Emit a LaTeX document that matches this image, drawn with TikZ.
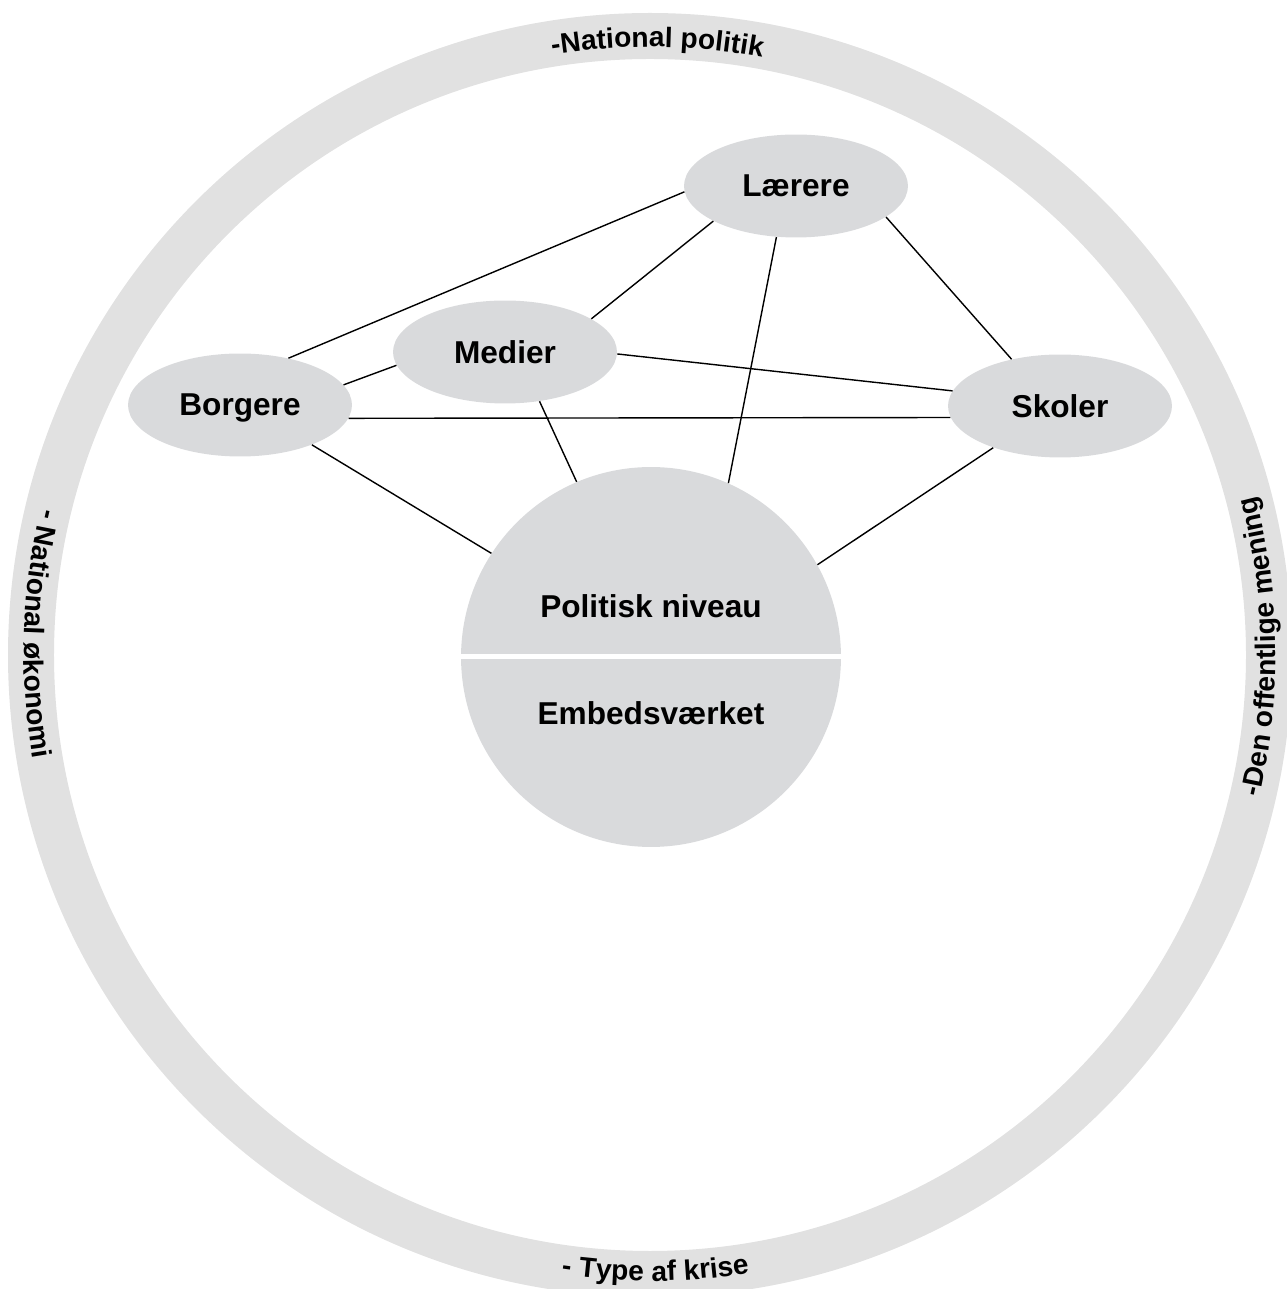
\documentclass[tikz,border=0pt]{standalone}
\usepackage{fontspec}
\setmainfont{Liberation Sans}
\usetikzlibrary{shapes.geometric,decorations.text}
\definecolor{ringgray}{RGB}{225,225,225}
\definecolor{nodegray}{RGB}{217,218,220}
\newcommand{\ringfont}{\fontsize{16}{19}\selectfont\bfseries}
\newcommand{\actorfont}{\fontsize{18}{22}\selectfont\bfseries}

\begin{document}
\begin{tikzpicture}[x=0.02cm,y=0.02cm,
        actor/.style={ellipse,fill=nodegray,minimum width=4.48cm,minimum height=2.06cm,inner sep=0pt,text depth=0pt,font=\actorfont},
        link/.style={line width=0.8pt},
        ringtext/.style={decorate,decoration={text along path,text align=center,text={|\ringfont|#1}}}]
        \useasboundingbox (0,0) rectangle (1287,1289);
        \clip (0,0) rectangle (1287,1289);
        \coordinate (R) at (650,634);
        \draw[ringgray,line width=0.92cm] (R) circle (619);
        \path[ringtext={-National politik}] (R) ++(110:608) arc[start angle=110,end angle=68.6,radius=608];
        \path[ringtext={- Type af krise}] (R) ++(250.5:626) arc[start angle=250.5,end angle=290.5,radius=626];
        \path[ringtext={- National økonomi}] (R) ++(158:626) arc[start angle=158,end angle=198,radius=626];
        \path[ringtext={-Den offentlige mening}] (R) ++(-19.2:626) arc[start angle=-19.2,end angle=20.8,radius=626];
        \node[actor] (laerere) at (796,1103) {Lærere};
        \node[actor] (medier) at (505,937) {Medier};
        \node[actor] (borgere) at (240,884) {Borgere};
        \node[actor] (skoler) at (1060,883) {Skoler};
        \node[circle,fill=nodegray,minimum size=7.6cm,inner sep=0pt] (pol) at (651,632) {};
        \draw[white,line width=0.1cm] (pol.west) -- (pol.east);
        \node[font=\actorfont] (niveau) at (651,683) {Politisk niveau};
        \node[font=\actorfont] (embed) at (651,576) {Embedsværket};
        \draw[link] (laerere.183) -- (borgere.44);
        \draw[link] (laerere.203) -- (medier.21);
        \draw[link] (laerere.249) -- (pol.66);
        \draw[link] (laerere.341) -- (skoler.136);
        \draw[link] (medier.359) -- (skoler.172);
        \draw[link] (medier.187) -- (borgere.11);
        \draw[link] (medier.305) -- (pol.113);
        \draw[link] (borgere.353) -- (skoler.186);
        \draw[link] (borgere.331) -- (pol.147);
        \draw[link] (skoler.212) -- (pol.29.5);
\end{tikzpicture}
\end{document}
